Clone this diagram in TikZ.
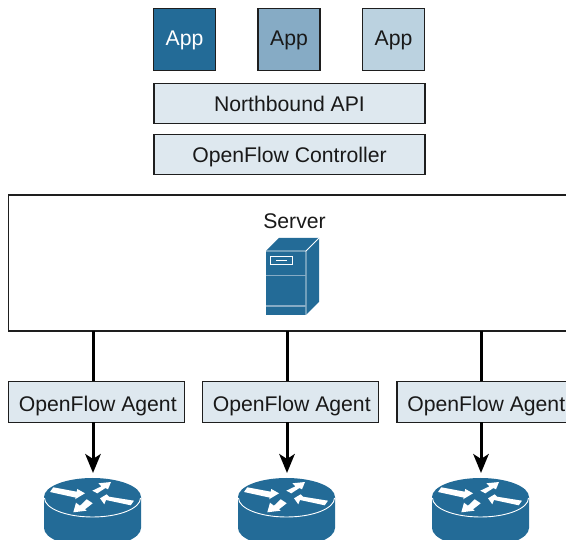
\documentclass[tikz,border=0pt]{standalone}
\usepackage{xcolor}
\usepackage{fontspec}
\setmainfont{Liberation Sans}
\usetikzlibrary{arrows.meta}
\definecolor{ciscoblue}{HTML}{236B97}
\definecolor{midblue}{HTML}{86ABC5}
\definecolor{lightblue}{HTML}{BBD2E0}
\definecolor{paleblue}{HTML}{DEE8EF}
\definecolor{boxline}{HTML}{1E1E1E}
\tikzset{
  box/.style={rectangle,draw=boxline,line width=1.4pt,inner sep=0pt,outer sep=0pt,text=black!90,font=\fontsize{21.2}{25}\selectfont,text height=18pt,text depth=2pt},
  appbox/.style={box,minimum width=62pt,minimum height=62pt,text height=15pt},
  agentbox/.style={box,minimum width=176pt,minimum height=41pt,fill=paleblue,text height=21pt,text depth=1.6pt,execute at begin node=\hspace*{2.5pt}},
  link/.style={line width=3pt,black},
  downlink/.style={line width=3pt,black,-{Stealth[length=19pt,width=15.5pt,inset=5pt]}},
  router/.pic={
    \fill[ciscoblue] (-48.5,0) -- (-48.5,31) arc[start angle=180,end angle=0,x radius=48.5,y radius=19] -- (48.5,0) arc[start angle=0,end angle=-180,x radius=48.5,y radius=19] -- cycle;
    \draw[white,line width=0.9pt] (-48,1) arc[start angle=180,end angle=0,x radius=48,y radius=19];
    \fill[white] (-39.2,-9.7) -- (-42.5,-5) -- (-16.5,0.7) -- (-17.5,2.3) -- (-7.5,-3.7) -- (-15.2,-8) -- (-15.8,-5.3) -- cycle;
    \fill[white] (-0.2,-6.3) -- (4.8,-3.7) -- (13,-9) -- (15.5,-7.7) -- (18.5,-15) -- (5.8,-13.7) -- (9,-10.7) -- cycle;
    \fill[white] (41.5,3.7) -- (38.2,8.3) -- (13.5,3) -- (11.8,7.3) -- (7.5,1.3) -- (14.2,-2.7) -- (16.5,-0.3) -- cycle;
    \fill[white] (-5.8,2.3) -- (0.2,6.3) -- (-7.5,12.3) -- (-5.8,13.7) -- (-19.2,15.3) -- (-16.5,5.7) -- (-12.5,8.7) -- cycle;
  },
  tower/.pic={
    \fill[ciscoblue] (266,251) -- (279,238) -- (319,238) -- (319,302) -- (306,315) -- (266,315) -- cycle;
    \draw[white,line width=0.8pt] (266,251) -- (306,251) -- (319,238) (306,251) -- (306,315);
    \draw[white,line width=0.8pt] (270.5,256) rectangle (292,264.5);
    \draw[white,line width=0.8pt] (276,260.5) -- (287,260.5);
    \draw[midblue,line width=1.6pt] (266,275.5) -- (306,275.5) (266,306) -- (306,306);
  }
}

\begin{document}
\begin{tikzpicture}[x=1pt,y=-1pt]
\clip (0,0) rectangle (566,540);
\node at (184.5,39.5) [appbox,fill=ciscoblue,text=white] (app1) {App};
\node at (289,39.5) [appbox,fill=midblue] (app2) {App};
\node at (393.5,39.5) [appbox,fill=lightblue] (app3) {App};
\node at (289.5,103.5) [box,minimum width=271pt,minimum height=40pt,fill=paleblue] (northbound) {Northbound API};
\node at (289.5,154.5) [box,minimum width=271pt,minimum height=40pt,fill=paleblue] (controller) {OpenFlow Controller};
% server box runs off the right edge
\node at (308.5,263) [box,minimum width=600pt,minimum height=136pt] (server) {};
\node at (294.5,221) [font=\fontsize{21.2}{25}\selectfont,text=black!90] (serverlabel) {Server};
\pic at (0,0) {tower};
\node at (96.5,402) [agentbox] (agent1) {OpenFlow Agent};
\node at (290.5,402) [agentbox] (agent2) {OpenFlow Agent};
\node at (485,402) [agentbox] (agent3) {OpenFlow Agent};
\pic at (92.5,497) {router};
\pic at (286.5,497) {router};
\pic at (480.5,497) {router};
\coordinate (link1) at (93,331);
\coordinate (link2) at (287,331);
\coordinate (link3) at (481,331);
\coordinate (router1) at (93,473);
\coordinate (router2) at (287,473);
\coordinate (router3) at (481,473);
\draw[link] (link1) -- (link1 |- agent1.north);
\draw[link] (link2) -- (link2 |- agent2.north);
\draw[link] (link3) -- (link3 |- agent3.north);
\draw[downlink] (router1 |- agent1.south) -- (router1);
\draw[downlink] (router2 |- agent2.south) -- (router2);
\draw[downlink] (router3 |- agent3.south) -- (router3);
\end{tikzpicture}
\end{document}
